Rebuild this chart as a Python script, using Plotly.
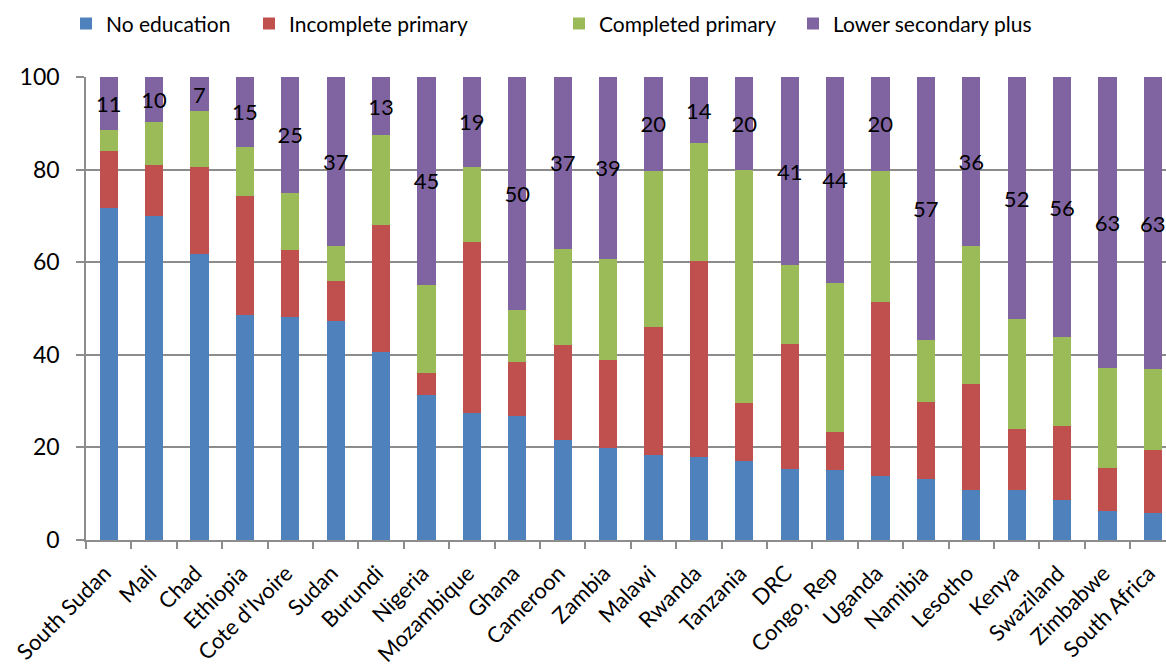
import plotly.graph_objects as go

countries = [
    "South Sudan", "Mali", "Chad", "Ethiopia", "Cote d'Ivoire", "Sudan",
    "Burundi", "Nigeria", "Mozambique", "Ghana", "Cameroon", "Zambia",
    "Malawi", "Rwanda", "Tanzania", "DRC", "Congo, Rep", "Uganda",
    "Namibia", "Lesotho", "Kenya", "Swaziland", "Zimbabwe", "South Africa",
]

no_education = [71.6, 69.9, 61.8, 48.7, 48.1, 47.3, 40.7, 31.4, 27.5, 26.8, 21.6, 19.9,
                18.4, 17.9, 17.0, 15.3, 15.1, 13.9, 13.1, 10.7, 10.7, 8.6, 6.3, 5.8]
incomplete_primary = [12.4, 11.2, 18.8, 25.6, 14.5, 8.7, 27.3, 4.6, 36.9, 11.7, 20.6, 19.0,
                      27.7, 42.4, 12.5, 27.1, 8.3, 37.4, 16.6, 22.9, 13.3, 16.1, 9.3, 13.7]
completed_primary = [4.6, 9.1, 12.0, 10.6, 12.4, 7.4, 19.4, 19.1, 16.2, 11.2, 20.7, 21.9,
                     33.6, 25.4, 50.4, 16.9, 32.2, 28.4, 13.6, 30.0, 23.7, 19.1, 21.6, 17.4]
lower_secondary_plus = [11.4, 9.8, 7.4, 15.1, 25.0, 36.6, 12.6, 44.9, 19.4, 50.3, 37.1, 39.2,
                        20.3, 14.3, 20.1, 40.7, 44.4, 20.3, 56.7, 36.4, 52.3, 56.2, 62.8, 63.1]

y_ticks = [0, 20, 40, 60, 80, 100]

FONT = "Lato, Open Sans, sans-serif"
GRID = "#8c8c8c"
W, H = 1166, 666

# (name, values, colour, legend id, legend left edge in px)
series = [
    ("No education", no_education, "#4F81BD", "legend", 66),
    ("Incomplete primary", incomplete_primary, "#C0504D", "legend2", 249),
    ("Completed primary", completed_primary, "#9BBB59", "legend3", 559),
    ("Lower secondary plus", lower_secondary_plus, "#8064A2", "legend4", 793),
]

fig = go.Figure()
legend_layouts = {}
for name, values, color, legend_id, legend_x in series:
    kwargs = {}
    if name == "Lower secondary plus":
        kwargs = dict(
            texttemplate="%{y:.0f}",
            textposition="inside",
            insidetextanchor="middle",
            textangle=0,
            constraintext="none",
            insidetextfont=dict(family=FONT, size=22, color="black"),
        )
    fig.add_trace(go.Bar(
        name=name, x=countries, y=values,
        marker=dict(color=color, line=dict(width=0)),
        hoverinfo="skip",
        legend=legend_id,
        **kwargs,
    ))
    legend_layouts[legend_id] = dict(
        orientation="h",
        xref="container", yref="container",
        x=legend_x / W, xanchor="left",
        y=0.995, yanchor="top",
        font=dict(family=FONT, size=21, color="black"),
        itemclick=False, itemdoubleclick=False,
        bgcolor="rgba(0,0,0,0)",
    )

fig.update_layout(
    barmode="stack",
    bargap=0.6,
    width=W, height=H,
    margin=dict(l=86, r=0, t=77, b=126, autoexpand=False),
    plot_bgcolor="white",
    paper_bgcolor="white",
    font=dict(family=FONT, size=22, color="black"),
    showlegend=True,
    **legend_layouts,
)

fig.update_xaxes(
    range=[-0.5, 23.29],
    automargin=False,
    tickangle=-45,
    ticks="outside", ticklen=7, tickcolor=GRID, tickwidth=1.5,
    tickson="boundaries",
    ticklabelshift=-4,
    ticklabelstandoff=10,
    showline=True, linecolor=GRID, linewidth=1.5,
    showgrid=False,
    tickfont=dict(family=FONT, size=22, color="black"),
)
fig.update_yaxes(
    range=[0, 100],
    automargin=False,
    tickvals=y_ticks,
    ticks="outside", ticklen=8, tickcolor=GRID, tickwidth=1.5,
    showline=True, linecolor=GRID, linewidth=1.5,
    showgrid=True, gridcolor=GRID, gridwidth=1.5,
    zeroline=False,
    ticklabelstandoff=12,
    tickfont=dict(family=FONT, size=23, color="black"),
)

fig.write_html("out.html")
